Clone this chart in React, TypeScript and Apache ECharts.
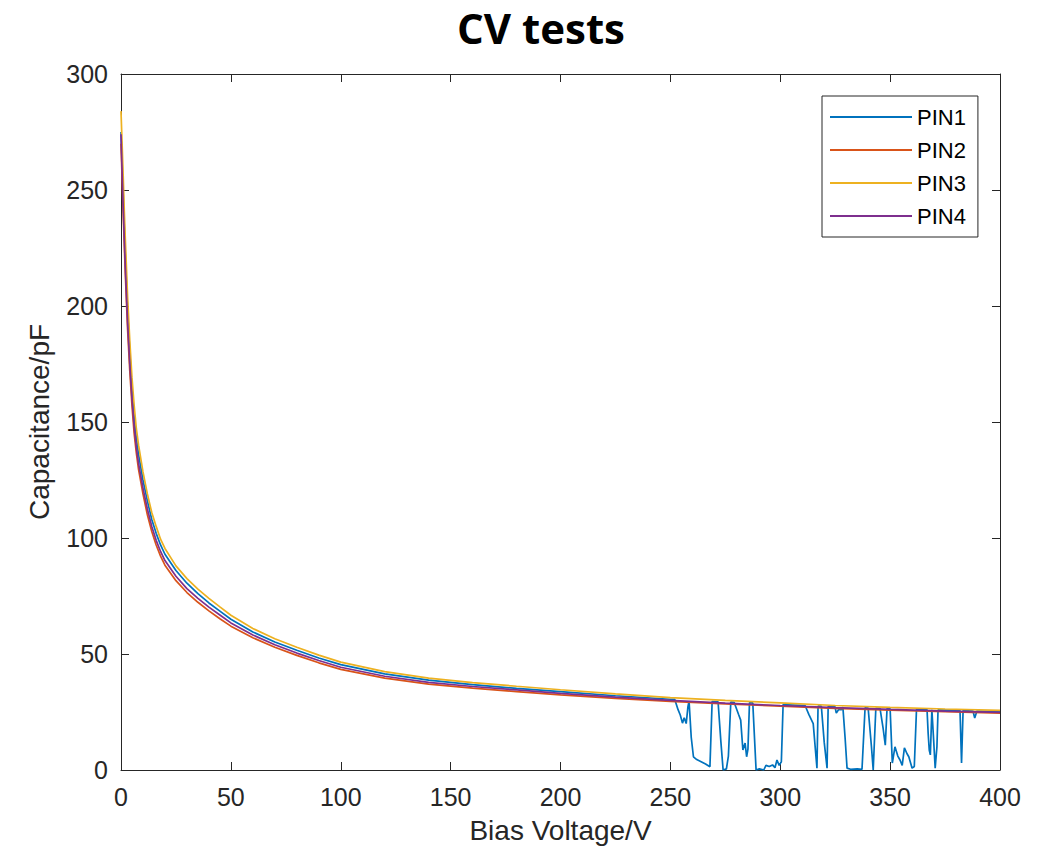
import React, { useEffect, useRef } from "react";
import * as echarts from "echarts";

// Bias voltage sample points (V)
const voltages = [
  0, 0.5, 1, 1.5, 2, 3, 4, 5, 6, 7, 8, 10, 12, 14, 16, 18, 20, 25, 30, 35, 40, 45, 50, 60, 70, 80, 90,
  100, 120, 140, 160, 180, 200, 225, 250, 275, 300, 325, 350, 375, 400,
];

// Capacitance (pF)
const pin1Capacitance = [
  275, 262, 248, 234, 221, 198, 180, 164, 152, 143, 136, 125, 116, 108, 102, 97, 93, 86, 80.5, 76, 72,
  68.5, 65, 59.5, 55.2, 51.6, 48.3, 45.4, 41.4, 38.7, 36.8, 35.2, 33.8, 32, 30.5, 29.3, 28.2, 27.2, 26.4,
  25.7, 25.1,
];
const pin2Capacitance = [
  270, 255, 240, 226, 213, 190, 172, 157, 145, 136.5, 129.5, 119, 110, 102.8, 97, 92.2, 88.3, 81.6, 76.5,
  72.3, 68.6, 65.2, 62, 57, 52.9, 49.4, 46.2, 43.4, 39.6, 37, 35.3, 33.8, 32.4, 30.9, 29.6, 28.5, 27.5,
  26.6, 25.8, 25.1, 24.5,
];
const pin3Capacitance = [
  284, 270, 256, 241, 228, 204, 185, 169, 157, 147, 140, 128.5, 119, 111, 105, 99.5, 95.5, 88, 82.5, 78,
  74, 70.3, 66.7, 61, 56.6, 52.9, 49.5, 46.5, 42.4, 39.6, 37.7, 36.1, 34.6, 32.8, 31.2, 30, 28.9, 27.8,
  27.0, 26.3, 25.7,
];
const pin4Capacitance = [
  274, 258, 243, 229, 216, 193, 175, 160, 148, 139, 132, 121.5, 112.5, 105, 99, 94.2, 90.3, 83.5, 78.2,
  74, 70.2, 66.8, 63.4, 58.2, 54, 50.4, 47.2, 44.3, 40.4, 37.8, 36, 34.5, 33, 31.4, 30, 28.8, 27.8, 26.9,
  26.1, 25.4, 24.8,
];

// PIN1 noisy tail above 250 V: [voltage, capacitance]
const pin1Tail: [number, number][] = [
  [252, 30.4], [253.5, 26], [254.5, 23.7], [255.5, 20.2], [256.3, 22.5], [257.2, 20], [258, 27.3],
  [258.5, 29.7], [259.5, 14], [260.5, 5.7], [262, 4.5], [264, 3.6], [266, 2.6], [268, 1.4], [269, 29.5],
  [271.7, 29.4], [273, 12], [274, 0], [275.5, 0.5], [276.4, 6], [277.5, 29.3], [279, 29.2], [281, 24],
  [282, 21.5], [283, 8.6], [284, 11.6], [284.7, 5.7], [285.3, 9], [286, 29], [287.5, 28.9], [289, 0],
  [290.5, 0.5], [292.5, 0], [293.5, 2], [295, 1.5], [296.5, 2.2], [297.6, 1], [298.5, 4.3], [299.5, 2],
  [300.5, 3.5], [301.3, 28.2], [311.3, 27.8], [313, 24], [315, 20], [316.7, 0.8], [317.2, 27.5],
  [318.7, 27.5], [320, 12], [321.3, 0.8], [321.8, 27.4], [324.9, 27.3], [325.5, 24.5], [326.5, 26],
  [327.9, 26], [328.5, 27.1], [329.5, 14], [330.4, 0.8], [332, 0.3], [335, 0.5], [337.2, 0.3],
  [338.6, 26.8], [340, 26.7], [341.5, 10], [342.3, 0], [343.5, 26.6], [345.4, 26.6], [346.8, 18],
  [347.8, 10.7], [348.6, 26.5], [350, 26.4], [351, 3], [352.2, 10], [353.5, 6], [354.5, 4.3], [355.5, 2],
  [356.5, 9.5], [357.7, 7], [358.5, 5.7], [360, 0.8], [361, 1.5], [362, 26.1], [366.8, 26], [367.3, 15.9],
  [367.8, 8.6], [368.3, 6.5], [369, 26], [369.8, 13], [370.5, 0.8], [371.3, 10], [371.8, 25.9],
  [381.8, 25.6], [382.5, 3], [383.2, 25.6], [387.7, 25.4], [388.5, 22.4], [389.5, 25.4], [400, 25.1],
];

const seriesNames = ["PIN1", "PIN2", "PIN3", "PIN4"];
const seriesColors = ["#0072BD", "#D95319", "#EDB120", "#7E2F8E"];

const xTicks = { min: 0, max: 400, interval: 50 };
const yTicks = { min: 0, max: 300, interval: 50 };

const TEXT = "#262626";
const FONT = '"Liberation Sans", Arial, Helvetica, sans-serif';

export default function App() {
  const ref = useRef<HTMLDivElement>(null);

  useEffect(() => {
    document.body.style.margin = "0";
    if (!ref.current) return;
    const chart = echarts.init(ref.current, undefined, { renderer: "svg" });

    const pin1Data = voltages
      .map((v, i) => [v, pin1Capacitance[i]] as [number, number])
      .filter(([v]) => v <= 250)
      .concat(pin1Tail);
    const zip = (arr: number[]) => voltages.map((v, i) => [v, arr[i]]);
    const datasets = [pin1Data, zip(pin2Capacitance), zip(pin3Capacitance), zip(pin4Capacitance)];

    const tick = { show: true, inside: false, length: -8, lineStyle: { color: TEXT, width: 1 } };
    const hiddenAxisCommon = {
      axisLabel: { show: false },
      axisLine: { show: true, onZero: false, lineStyle: { color: TEXT, width: 1 } },
      axisTick: tick,
      splitLine: { show: false },
    };

    chart.setOption({
      animation: false,
      backgroundColor: "#ffffff",
      title: {
        text: "CV tests",
        left: 541,
        textAlign: "center",
        top: 4,
        padding: 0,
        textStyle: {
          fontFamily: '"Open Sans", sans-serif',
          fontWeight: "bold",
          fontSize: 42,
          lineHeight: 46,
          color: "#000000",
        },
      },
      grid: { left: 121, right: 48, top: 74, bottom: 85, containLabel: false },
      legend: {
        data: seriesNames.map((name) => ({ name, icon: "rect" })),
        orient: "vertical",
        left: 822,
        top: 96,
        itemWidth: 82,
        itemHeight: 2,
        itemGap: 9,
        padding: [9, 12, 9, 8],
        borderColor: TEXT,
        borderWidth: 1,
        borderRadius: 0,
        backgroundColor: "#ffffff",
        textStyle: { fontFamily: FONT, fontSize: 22, lineHeight: 24, color: "#000000" },
      },
      xAxis: [
        {
          type: "value",
          ...xTicks,
          name: "Bias Voltage/V",
          nameLocation: "middle",
          nameGap: 46,
          nameTextStyle: { fontFamily: FONT, fontSize: 28, color: TEXT },
          axisLine: { show: true, onZero: false, lineStyle: { color: TEXT, width: 1 } },
          axisTick: tick,
          axisLabel: { fontFamily: FONT, fontSize: 25, color: TEXT, margin: 14 },
          splitLine: { show: false },
        },
        { type: "value", position: "top", ...xTicks, ...hiddenAxisCommon },
      ],
      yAxis: [
        {
          type: "value",
          ...yTicks,
          name: "Capacitance/pF",
          nameLocation: "middle",
          nameGap: 68,
          nameTextStyle: { fontFamily: FONT, fontSize: 28, color: TEXT },
          axisLine: { show: true, onZero: false, lineStyle: { color: TEXT, width: 1 } },
          axisTick: tick,
          axisLabel: { fontFamily: FONT, fontSize: 25, color: TEXT, margin: 13 },
          splitLine: { show: false },
        },
        { type: "value", position: "right", ...yTicks, ...hiddenAxisCommon },
      ],
      series: seriesNames.map((name, i) => ({
        name,
        type: "line",
        data: datasets[i],
        xAxisIndex: 0,
        yAxisIndex: 0,
        showSymbol: false,
        symbol: "none",
        color: seriesColors[i],
        itemStyle: { color: seriesColors[i] },
        lineStyle: { width: 1.7, color: seriesColors[i] },
      })),
    });

    return () => chart.dispose();
  }, []);

  return <div ref={ref} style={{ width: 1048, height: 855 }} />;
}
